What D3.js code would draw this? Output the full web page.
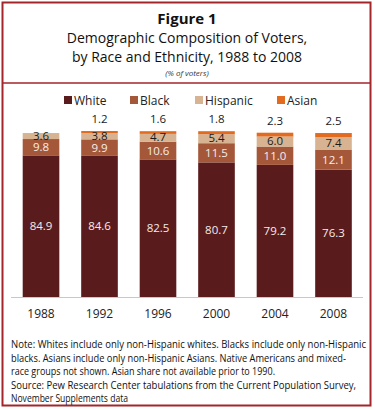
<!doctype html>
<html>
<head>
<meta charset="utf-8">
<script src="https://d3js.org/d3.v7.min.js"></script>
<style>
  body { margin: 0; background: #fff; }
  svg { display: block; font-family: "Open Sans", "Noto Sans", sans-serif; }
</style>
</head>
<body>
<svg width="375" height="410"></svg>
<script>
// data
var years = ["1988", "1992", "1996", "2000", "2004", "2008"];
var series = ["White", "Black", "Hispanic", "Asian"];
var white = [84.9, 84.6, 82.5, 80.7, 79.2, 76.3];
var black = [9.8, 9.9, 10.6, 11.5, 11.0, 12.1];
var hispanic = [3.6, 3.8, 4.7, 5.4, 6.0, 7.4];
var asian = [0, 1.2, 1.6, 1.8, 2.3, 2.5];
var asianLabels = ["", "1.2", "1.6", "1.8", "2.3", "2.5"];
var colors = ["#5a1b1d", "#a5573a", "#d8b391", "#e26b1f"];

var rows = years.map(function(y, i) {
  return { year: y, White: white[i], Black: black[i], Hispanic: hispanic[i], Asian: asian[i], i: i };
});

var svg = d3.select("svg");

// frame
svg.append("rect")
   .attr("x", 2.5).attr("y", 2.5)
   .attr("width", 368).attr("height", 403)
   .attr("fill", "none").attr("stroke", "#a3262a").attr("stroke-width", 2);
svg.append("line")
   .attr("x1", 2.5).attr("x2", 370.5).attr("y1", 83).attr("y2", 83)
   .attr("stroke", "#a3262a").attr("stroke-width", 1.5);

// titles
svg.append("text").attr("x", 187).attr("y", 24).attr("text-anchor", "middle")
   .attr("font-size", 15).attr("font-weight", "bold").attr("fill", "#111").text("Figure 1");
svg.append("text").attr("x", 187).attr("y", 43).attr("text-anchor", "middle")
   .attr("font-size", 14).attr("fill", "#111").text("Demographic Composition of Voters,");
svg.append("text").attr("x", 187).attr("y", 62).attr("text-anchor", "middle")
   .attr("font-size", 14).attr("fill", "#111").text("by Race and Ethnicity, 1988 to 2008");
svg.append("text").attr("x", 187).attr("y", 76).attr("text-anchor", "middle")
   .attr("font-size", 8).attr("font-style", "italic").attr("fill", "#333").text("(% of voters)");

// legend
var legX = [64, 130, 195, 277];
var leg = svg.append("g").selectAll("g").data(series).enter().append("g")
   .attr("transform", function(d, i) { return "translate(" + legX[i] + ",96)"; });
leg.append("rect").attr("width", 8).attr("height", 8)
   .attr("fill", function(d, i) { return colors[i]; });
leg.append("text").attr("x", 10).attr("y", 8.5).attr("font-size", 12).attr("fill", "#222")
   .text(function(d) { return d; });

// scales
var x = d3.scaleBand().domain(years).range([22.7, 351.8]).paddingInner(0.374).paddingOuter(0);
var y = d3.scaleLinear().domain([0, 100]).range([297, 130.2]);

var stack = d3.stack().keys(series)(rows);

var layers = svg.append("g").selectAll("g").data(stack).enter().append("g")
   .attr("fill", function(d, i) { return colors[i]; });

layers.selectAll("rect").data(function(d) { return d; }).enter().append("rect")
   .attr("x", function(d) { return x(d.data.year); })
   .attr("y", function(d) { return y(d[1]); })
   .attr("width", x.bandwidth())
   .attr("height", function(d) { return y(d[0]) - y(d[1]); });

// baseline
svg.append("line").attr("x1", 11).attr("x2", 363).attr("y1", 297.5).attr("y2", 297.5)
   .attr("stroke", "#c8c8c8").attr("stroke-width", 1);

// labels inside segments
var inside = [
  { vals: white, color: "#f4ece8", dy: 4 },
  { vals: black, color: "#f6eee8", dy: 4 },
  { vals: hispanic, color: "#1a1a1a", dy: 3.5 }
];
inside.forEach(function(s, k) {
  svg.append("g").selectAll("text").data(stack[k]).enter().append("text")
     .attr("x", function(d) { return x(d.data.year) + x.bandwidth() / 2; })
     .attr("y", function(d) { return (y(d[0]) + y(d[1])) / 2 + s.dy; })
     .attr("text-anchor", "middle").attr("font-size", 11.5)
     .attr("fill", s.color)
     .text(function(d, i) { return s.vals[i].toFixed(1); });
});

// asian labels above bars
svg.append("g").selectAll("text").data(stack[3]).enter().append("text")
   .attr("x", function(d) { return x(d.data.year) + x.bandwidth() / 2; })
   .attr("y", function(d) { return y(d[1]) - 8; })
   .attr("text-anchor", "middle").attr("font-size", 11.5).attr("fill", "#1a1a1a")
   .text(function(d, i) { return asianLabels[i]; });

// x axis labels
svg.append("g").selectAll("text").data(years).enter().append("text")
   .attr("x", function(d) { return x(d) + x.bandwidth() / 2; })
   .attr("y", 318)
   .attr("text-anchor", "middle").attr("font-size", 12).attr("fill", "#222")
   .text(function(d) { return d; });

// notes
var notes = [
  ["Note: Whites include only non-Hispanic whites.  Blacks include only non-Hispanic", 355],
  ["blacks. Asians include only non-Hispanic Asians. Native Americans and mixed-", 335],
  ["race groups not shown. Asian share not available prior to 1990.", 264],
  ["Source: Pew Research Center tabulations from the Current Population Survey,", 345],
  ["November Supplements data", 117]
];
var noteY = [348, 362, 375, 389, 402];
svg.append("g").selectAll("text").data(notes).enter().append("text")
   .attr("x", 11)
   .attr("y", function(d, i) { return noteY[i]; })
   .attr("font-size", 10.5).attr("fill", "#111")
   .attr("textLength", function(d) { return d[1]; })
   .attr("lengthAdjust", "spacingAndGlyphs")
   .text(function(d) { return d[0]; });
</script>
</body>
</html>
